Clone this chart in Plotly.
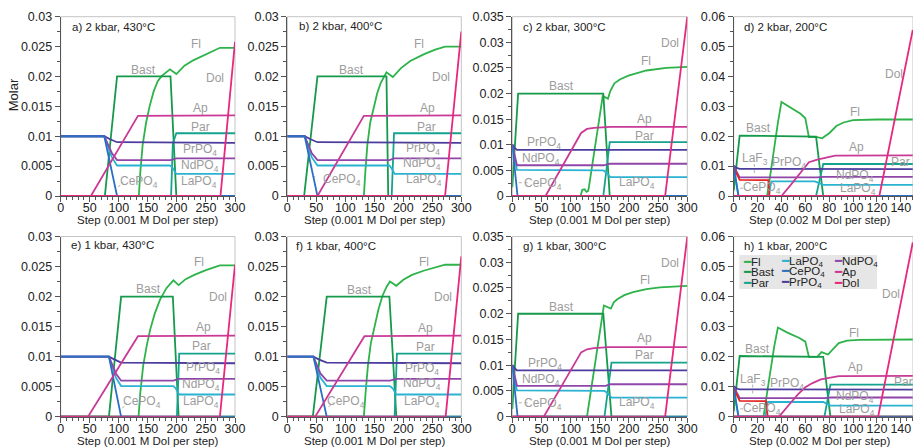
import plotly.graph_objects as go

FONT = "Liberation Sans, Arial, sans-serif"

COLORS = {
    "Fl": "#2db34a", "Bast": "#15994a", "Par": "#15a38e", "LaPO4": "#2ab2d2",
    "CePO4": "#2b6fc3", "PrPO4": "#4b3c9e", "NdPO4": "#8e47a9", "Ap": "#c93a97",
    "Dol": "#e8287e", "LaF3": "#e52421",
}
DRAW_ORDER = ["Fl", "Bast", "Par", "LaPO4", "PrPO4", "NdPO4", "LaF3", "CePO4", "Ap", "Dol"]
LABEL_TEXT = {
    "Fl": "Fl", "Bast": "Bast", "Par": "Par", "Ap": "Ap", "Dol": "Dol",
    "PrPO4": "PrPO<sub>4</sub>", "NdPO4": "NdPO<sub>4</sub>", "LaPO4": "LaPO<sub>4</sub>",
    "CePO4": "CePO<sub>4</sub>", "LaF3": "LaF<sub>3</sub>",
}

# ---------------- data: [step, molar] ----------------
# a) 2 kbar, 430 C
a_Fl = [[0, 0], [134.5, 0], [137, 0.004], [141, 0.0085], [147, 0.0123], [153, 0.015], [160, 0.0175],
        [167, 0.0192], [174, 0.0201], [181, 0.0207], [188, 0.0212], [199, 0.0204], [213, 0.0218],
        [228, 0.0227], [251, 0.0238], [274, 0.0248], [300, 0.0248]]
a_Bast = [[0, 0], [76, 0], [97, 0.02], [189, 0.02], [199, 0], [300, 0]]
a_Par = [[0, 0], [190, 0], [193, 0.0088], [199, 0.0105], [300, 0.0105]]
a_LaPO4 = [[0, 0.01], [75, 0.01], [88, 0.0065], [97, 0.0051], [188, 0.0051], [192, 0.0048], [199, 0.0037], [300, 0.0037]]
a_CePO4 = [[0, 0.01], [75, 0.01], [97, 0], [300, 0]]
a_PrPO4 = [[0, 0.01], [75, 0.01], [85, 0.0095], [97, 0.009], [300, 0.0089]]
a_NdPO4 = [[0, 0.01], [75, 0.01], [88, 0.0072], [97, 0.006], [189, 0.006], [199, 0.0063], [300, 0.0063]]
a_Ap = [[0, 0], [52, 0], [133, 0.0134], [190, 0.0134], [200, 0.0135], [300, 0.0135]]
a_Dol = [[0, 0], [275, 0], [300, 0.0258]]

# b) 2 kbar, 400 C
b_Fl = [[0, 0], [132, 0], [134.5, 0.004], [138, 0.0085], [143, 0.0123], [149, 0.015], [155, 0.0172],
        [161, 0.0189], [166, 0.0199], [171, 0.0207], [182, 0.0199], [196, 0.0214], [212, 0.0226],
        [235, 0.0237], [255, 0.0245], [272, 0.025], [300, 0.025]]
b_Bast = [[0, 0], [29, 0], [52, 0.02], [171, 0.02], [174, 0], [300, 0]]
b_Par = [[0, 0], [180, 0], [184, 0.0105], [300, 0.0105]]
b_LaPO4 = [[0, 0.01], [30, 0.01], [42, 0.0065], [52, 0.0051], [176, 0.0051], [180, 0.0046], [185, 0.0037], [300, 0.0037]]
b_CePO4 = [[0, 0.01], [30, 0.01], [52, 0], [300, 0]]
b_PrPO4 = [[0, 0.01], [30, 0.01], [40, 0.0095], [52, 0.009], [300, 0.0089]]
b_NdPO4 = [[0, 0.01], [30, 0.01], [42, 0.0072], [52, 0.006], [176, 0.006], [184, 0.0063], [300, 0.0063]]
b_Ap = [[0, 0], [52, 0], [132, 0.0134], [180, 0.0134], [185, 0.0135], [300, 0.0135]]
b_Dol = [[0, 0], [272, 0], [300, 0.0275]]

# c) 2 kbar, 300 C
c_Fl = [[0, 0], [117, 0], [120, 0.0012], [124, 0.0013], [127, 0.0008], [130, 0.001], [131, 0.0015],
        [155, 0.0195], [164, 0.019], [168, 0.0205], [175, 0.022], [185, 0.0228], [199, 0.0235],
        [230, 0.0245], [264, 0.025], [300, 0.0252]]
c_Bast = [[0, 0.0017], [10, 0.02], [156, 0.02], [167, 0], [300, 0]]
c_Par = [[0, 0], [156, 0], [167, 0.0105], [300, 0.0105]]
c_LaPO4 = [[0, 0.0098], [4, 0.007], [8, 0.0051], [156, 0.005], [160, 0.0047], [168, 0.0037], [300, 0.0037]]
c_CePO4 = [[0, 0.01], [9, 0], [300, 0]]
c_PrPO4 = [[0, 0.0101], [4, 0.0094], [8, 0.009], [300, 0.009]]
c_NdPO4 = [[0, 0.01], [4, 0.008], [8, 0.006], [157, 0.006], [167, 0.0063], [300, 0.0063]]
c_Ap = [[0, 0], [57, 0], [118, 0.0123], [128, 0.0131], [140, 0.0133], [168, 0.0135], [300, 0.0135]]
c_Dol = [[0, 0], [262, 0], [300, 0.035]]

# d) 2 kbar, 200 C
d_Fl = [[0, 0], [28, 0], [31, 0.008], [34, 0.0165], [37, 0.0245], [40, 0.0315], [50, 0.029], [56, 0.0275],
        [60, 0.026], [63, 0.0197], [70, 0.0197], [74, 0.0193], [80, 0.021], [86, 0.0234], [92, 0.0246],
        [100, 0.0254], [120, 0.0256], [150, 0.0256]]
d_Bast = [[0, 0.0018], [5, 0.0202], [69, 0.0199], [75, 0], [150, 0]]
d_Par = [[0, 0], [69, 0], [75, 0.0107], [150, 0.0107]]
d_LaPO4 = [[0, 0.0098], [4, 0], [29.5, 0], [31.5, 0.0049], [68, 0.0049], [70, 0.0045], [75, 0.0037], [150, 0.0037]]
d_LaF3 = [[0, 0.0095], [3, 0.007], [5, 0.0054], [29, 0.0053], [30, 0], [150, 0]]
d_CePO4 = [[0, 0.0098], [4, 0], [150, 0]]
d_PrPO4 = [[0, 0.0101], [3, 0.0093], [5, 0.0091], [150, 0.009]]
d_NdPO4 = [[0, 0.01], [3, 0.0075], [5, 0.0062], [70, 0.0062], [75, 0.0064], [150, 0.0064]]
d_Ap = [[0, 0], [40, 0], [48, 0.0038], [56, 0.0078], [63, 0.0113], [70, 0.0122], [76, 0.0128], [85, 0.0135], [150, 0.0136]]
d_Dol = [[0, 0], [122, 0], [150, 0.0556]]

# e) 1 kbar, 430 C
e_Fl = [[0, 0], [134, 0], [137, 0.004], [142, 0.0085], [148, 0.0118], [154, 0.0145], [162, 0.0172],
        [171, 0.0195], [182, 0.0214], [194, 0.0227], [203, 0.0219], [215, 0.0229], [230, 0.0236],
        [250, 0.0244], [274, 0.0252], [300, 0.0252]]
e_Bast = [[0, 0], [83, 0], [104, 0.02], [193, 0.02], [203, 0], [300, 0]]
e_Par = [[0, 0], [200, 0], [204, 0.0105], [300, 0.0105]]
e_LaPO4 = [[0, 0.01], [83, 0.01], [95, 0.0065], [104, 0.0051], [194, 0.0051], [198, 0.0047], [204, 0.0037], [300, 0.0037]]
e_CePO4 = [[0, 0.01], [83, 0.01], [104, 0], [300, 0]]
e_PrPO4 = [[0, 0.01], [83, 0.01], [93, 0.0095], [104, 0.009], [300, 0.0089]]
e_NdPO4 = [[0, 0.01], [83, 0.01], [95, 0.0072], [104, 0.006], [194, 0.006], [203, 0.0063], [300, 0.0063]]
e_Ap = [[0, 0], [47, 0], [133, 0.0134], [195, 0.0134], [203, 0.0135], [300, 0.0135]]
e_Dol = [[0, 0], [274, 0], [300, 0.0253]]

# f) 1 kbar, 400 C
f_Fl = [[0, 0], [132, 0], [135, 0.004], [139, 0.0085], [144, 0.0122], [150, 0.015], [157, 0.0178],
        [164, 0.0201], [171, 0.0216], [177, 0.0225], [188, 0.0218], [200, 0.0228], [215, 0.0236],
        [235, 0.0243], [255, 0.0249], [272, 0.0253], [300, 0.0253]]
f_Bast = [[0, 0], [44, 0], [68, 0.02], [176, 0.02], [188, 0], [300, 0]]
f_Par = [[0, 0], [185, 0], [189, 0.0105], [300, 0.0105]]
f_LaPO4 = [[0, 0.01], [45, 0.01], [57, 0.0065], [68, 0.0051], [177, 0.0051], [182, 0.0047], [188, 0.0037], [300, 0.0037]]
f_CePO4 = [[0, 0.01], [45, 0.01], [68, 0], [300, 0]]
f_PrPO4 = [[0, 0.01], [45, 0.01], [55, 0.0095], [68, 0.009], [300, 0.0089]]
f_NdPO4 = [[0, 0.01], [45, 0.01], [57, 0.0072], [68, 0.006], [177, 0.006], [188, 0.0063], [300, 0.0063]]
f_Ap = [[0, 0], [48, 0], [133, 0.0134], [188, 0.0134], [190, 0.0135], [300, 0.0135]]
f_Dol = [[0, 0], [273, 0], [300, 0.0267]]

# g) 1 kbar, 300 C
g_Fl = [[0, 0], [128, 0], [157, 0.0216], [163, 0.0213], [169, 0.021], [174, 0.0222], [180, 0.0228],
        [192, 0.0236], [207, 0.0242], [230, 0.0248], [253, 0.0251], [300, 0.0254]]
g_Bast = [[0, 0.0015], [10, 0.02], [156, 0.02], [170, 0], [300, 0]]
g_Par = [[0, 0], [158, 0], [170, 0.0105], [300, 0.0105]]
g_LaPO4 = [[0, 0.0098], [4, 0.007], [8, 0.0051], [158, 0.005], [162, 0.0047], [170, 0.0037], [300, 0.0037]]
g_CePO4 = [[0, 0.01], [9, 0], [300, 0]]
g_PrPO4 = [[0, 0.0101], [4, 0.0094], [8, 0.009], [300, 0.009]]
g_NdPO4 = [[0, 0.01], [4, 0.008], [8, 0.006], [160, 0.006], [168, 0.0063], [300, 0.0063]]
g_Ap = [[0, 0], [54, 0], [118, 0.0125], [128, 0.0131], [140, 0.0133], [165, 0.0135], [300, 0.0135]]
g_Dol = [[0, 0], [262, 0], [300, 0.035]]

# h) 1 kbar, 200 C
h_Fl = [[0, 0], [25, 0], [28, 0.008], [31, 0.0165], [34, 0.0235], [37, 0.0297], [45, 0.028], [55, 0.0262],
        [60, 0.025], [63, 0.0199], [70, 0.0199], [73.5, 0.0215], [79, 0.0207], [84, 0.0228], [88, 0.0245],
        [95, 0.0253], [105, 0.0256], [150, 0.0257]]
h_Bast = [[0, 0.0018], [5, 0.0202], [75, 0.0199], [81, 0], [150, 0]]
h_Par = [[0, 0], [76, 0], [81, 0.0107], [150, 0.0107]]
h_LaPO4 = [[0, 0.0098], [4, 0], [26.5, 0], [28.5, 0.0049], [75, 0.0049], [77, 0.0045], [81, 0.0037], [150, 0.0037]]
h_LaF3 = [[0, 0.0095], [3, 0.007], [5, 0.0053], [27, 0.0052], [28.5, 0], [150, 0]]
h_CePO4 = [[0, 0.0098], [4, 0], [150, 0]]
h_PrPO4 = [[0, 0.0101], [3, 0.0093], [5, 0.0091], [150, 0.009]]
h_NdPO4 = [[0, 0.01], [3, 0.0075], [5, 0.0062], [76, 0.0062], [81, 0.0064], [150, 0.0064]]
h_Ap = [[0, 0], [38, 0], [46, 0.0038], [54, 0.0075], [60, 0.0098], [66, 0.0112], [73, 0.0124], [80, 0.013], [88, 0.0135], [150, 0.0136]]
h_Dol = [[0, 0], [121, 0], [150, 0.058]]

# ---------------- label placement (layout) ----------------
a_labels = {"Fl": (233, 0.0254), "Bast": (143, 0.0211), "Dol": (266, 0.0198), "Ap": (240, 0.01475),
            "Par": (240, 0.0116), "PrPO4": (240, 0.0077), "NdPO4": (239, 0.0051), "LaPO4": (238, 0.0023),
            "CePO4": (134, 0.0023)}
b_labels = {"Fl": (227, 0.0254), "Bast": (111, 0.0211), "Dol": (265, 0.0199), "Ap": (241, 0.0148),
            "Par": (240, 0.0116), "PrPO4": (234, 0.0079), "NdPO4": (233, 0.0054), "LaPO4": (235, 0.0026),
            "CePO4": (94, 0.0026)}
c_labels = {"Dol": (271, 0.0299), "Fl": (229, 0.0264), "Bast": (85, 0.0214), "Ap": (227, 0.0151),
            "Par": (226, 0.0118), "PrPO4": (54, 0.0104), "NdPO4": (50, 0.0072), "CePO4": (53, 0.0023),
            "LaPO4": (214, 0.0026)}
d_labels = {"Dol": (134, 0.0408), "Fl": (102, 0.028), "Bast": (21, 0.0226), "Ap": (103, 0.0165),
            "Par": (140, 0.0115), "NdPO4": (102, 0.0067), "LaPO4": (104, 0.0022), "LaF3": (18, 0.0123),
            "PrPO4": (46, 0.0109), "CePO4": (23.5, 0.0026)}
e_labels = {"Fl": (238, 0.0257), "Bast": (151, 0.0213), "Dol": (271, 0.02), "Ap": (245, 0.01496),
            "Par": (243, 0.0118), "PrPO4": (245, 0.0081), "NdPO4": (242, 0.0052), "LaPO4": (242, 0.00246),
            "CePO4": (140, 0.00246)}
f_labels = {"Fl": (236, 0.0257), "Bast": (124, 0.0211), "Dol": (268, 0.0199), "Ap": (239, 0.0148),
            "Par": (239, 0.0116), "PrPO4": (233, 0.0079), "NdPO4": (232, 0.0054), "LaPO4": (233, 0.0025),
            "CePO4": (101, 0.0024)}
g_labels = {"Dol": (270, 0.0299), "Fl": (227, 0.0265), "Bast": (85, 0.0213), "Ap": (226, 0.0152),
            "Par": (226, 0.0119), "PrPO4": (56, 0.0103), "NdPO4": (50, 0.0072), "CePO4": (53, 0.0025),
            "LaPO4": (214, 0.0027)}
h_labels = {"Dol": (132, 0.0408), "Fl": (101, 0.028), "Bast": (20, 0.0227), "Ap": (102, 0.0165),
            "Par": (142, 0.0117), "NdPO4": (102, 0.0067), "LaPO4": (103, 0.0022), "LaF3": (16.5, 0.0123),
            "PrPO4": (44.5, 0.0109), "CePO4": (23.5, 0.0026)}

a_leaders = [((99, 0.0015), (108, 0.0024))]
b_leaders = [((45, 0.0035), (52, 0.0026))]
c_leaders = [((11, 0.0026), (27, 0.0026))]
d_leaders = [((17.3, 0.0107), (17.3, 0.007)), ((5.3, 0.0026), (9.4, 0.0026))]
e_leaders = [((106, 0.0014), (114, 0.0023))]
f_leaders = [((71, 0.0016), (79, 0.0024))]
g_leaders = [((11, 0.0027), (27, 0.0027))]
h_leaders = [((15.9, 0.0107), (15.9, 0.007)), ((5.4, 0.0026), (9.6, 0.0026))]

STEP1 = "Step (0.001 M Dol per step)"
STEP2 = "Step (0.002 M Dol per step)"

panels = [
    dict(title="a) 2 kbar, 430°C", tx=16, ty=0.0283, xmax=300, ymax=0.03, ydt=0.005, xdt=50,
         series=dict(Fl=a_Fl, Bast=a_Bast, Par=a_Par, LaPO4=a_LaPO4, CePO4=a_CePO4, PrPO4=a_PrPO4,
                     NdPO4=a_NdPO4, Ap=a_Ap, Dol=a_Dol), labels=a_labels, leaders=a_leaders, xt=STEP1),
    dict(title="b) 2 kbar, 400°C", tx=16.7, ty=0.0284, xmax=300, ymax=0.03, ydt=0.005, xdt=50,
         series=dict(Fl=b_Fl, Bast=b_Bast, Par=b_Par, LaPO4=b_LaPO4, CePO4=b_CePO4, PrPO4=b_PrPO4,
                     NdPO4=b_NdPO4, Ap=b_Ap, Dol=b_Dol), labels=b_labels, leaders=b_leaders, xt=STEP1),
    dict(title="c) 2 kbar, 300°C", tx=15, ty=0.0329, xmax=300, ymax=0.035, ydt=0.005, xdt=50,
         series=dict(Fl=c_Fl, Bast=c_Bast, Par=c_Par, LaPO4=c_LaPO4, CePO4=c_CePO4, PrPO4=c_PrPO4,
                     NdPO4=c_NdPO4, Ap=c_Ap, Dol=c_Dol), labels=c_labels, leaders=c_leaders, xt=STEP1),
    dict(title="d) 2 kbar, 200°C", tx=6.7, ty=0.0566, xmax=150.2, ymax=0.06, ydt=0.01, xdt=20,
         series=dict(Fl=d_Fl, Bast=d_Bast, Par=d_Par, LaPO4=d_LaPO4, LaF3=d_LaF3, CePO4=d_CePO4,
                     PrPO4=d_PrPO4, NdPO4=d_NdPO4, Ap=d_Ap, Dol=d_Dol), labels=d_labels, leaders=d_leaders, xt=STEP2),
    dict(title="e) 1 kbar, 430°C", tx=14.3, ty=0.0286, xmax=300, ymax=0.03, ydt=0.005, xdt=50,
         series=dict(Fl=e_Fl, Bast=e_Bast, Par=e_Par, LaPO4=e_LaPO4, CePO4=e_CePO4, PrPO4=e_PrPO4,
                     NdPO4=e_NdPO4, Ap=e_Ap, Dol=e_Dol), labels=e_labels, leaders=e_leaders, xt=STEP1),
    dict(title="f) 1 kbar, 400°C", tx=11.5, ty=0.0284, xmax=300, ymax=0.03, ydt=0.005, xdt=50,
         series=dict(Fl=f_Fl, Bast=f_Bast, Par=f_Par, LaPO4=f_LaPO4, CePO4=f_CePO4, PrPO4=f_PrPO4,
                     NdPO4=f_NdPO4, Ap=f_Ap, Dol=f_Dol), labels=f_labels, leaders=f_leaders, xt=STEP1),
    dict(title="g) 1 kbar, 300°C", tx=15, ty=0.0331, xmax=300, ymax=0.035, ydt=0.005, xdt=50,
         series=dict(Fl=g_Fl, Bast=g_Bast, Par=g_Par, LaPO4=g_LaPO4, CePO4=g_CePO4, PrPO4=g_PrPO4,
                     NdPO4=g_NdPO4, Ap=g_Ap, Dol=g_Dol), labels=g_labels, leaders=g_leaders, xt=STEP1),
    dict(title="h) 1 kbar, 200°C", tx=6.7, ty=0.0569, xmax=150.2, ymax=0.06, ydt=0.01, xdt=20,
         series=dict(Fl=h_Fl, Bast=h_Bast, Par=h_Par, LaPO4=h_LaPO4, LaF3=h_LaF3, CePO4=h_CePO4,
                     PrPO4=h_PrPO4, NdPO4=h_NdPO4, Ap=h_Ap, Dol=h_Dol), labels=h_labels, leaders=h_leaders, xt=STEP2),
]

W, H = 913, 447
XD = [(60.7, 235.0), (287.3, 461.3), (512.3, 687.3), (733.7, 913.0)]   # pixel columns
YD = [(16.7, 196.0), (236.5, 416.7)]                                      # pixel rows (top, bottom)
XT_CENTER = [147.8, 374.3, 599.8, 819.0]

fig = go.Figure()
layout = {}
shapes = []
annotations = []

for i, p in enumerate(panels):
    n = i + 1
    col, row = i % 4, i // 4
    xs = "x" if n == 1 else f"x{n}"
    ys = "y" if n == 1 else f"y{n}"
    xa = "xaxis" if n == 1 else f"xaxis{n}"
    ya = "yaxis" if n == 1 else f"yaxis{n}"
    x0, x1 = XD[col]
    yt, yb = YD[row]
    axis_common = dict(showline=True, linecolor="#555", linewidth=1, ticks="outside", ticklen=5,
                       tickwidth=1, tickcolor="#555", showgrid=False, zeroline=False, automargin=False,
                       tickangle=0, tickfont=dict(family=FONT, size=12.5, color="#222"), tick0=0)
    layout[xa] = dict(axis_common, domain=[x0 / W, x1 / W], range=[0, p["xmax"]], anchor=ys,
                      dtick=p["xdt"], ticklabelstandoff=-5,
                      minor=dict(dtick=p["xdt"] / 5 if p["xdt"] == 50 else p["xdt"] / 4,
                                 ticks="outside", ticklen=3, tickcolor="#555"))
    layout[ya] = dict(axis_common, domain=[1 - yb / H, 1 - yt / H], range=[0, p["ymax"]], anchor=xs,
                      dtick=p["ydt"], minor=dict(dtick=p["ydt"] / 2, ticks="outside", ticklen=3,
                                                 tickcolor="#555"))
    # light frame
    shapes.append(dict(type="rect", xref=f"{xs} domain", yref=f"{ys} domain", x0=0, x1=1, y0=0, y1=1,
                       line=dict(color="#c4c4c4", width=1), layer="below"))
    for name in DRAW_ORDER:
        if name not in p["series"]:
            continue
        pts = p["series"][name]
        fig.add_trace(go.Scatter(x=[q[0] for q in pts], y=[q[1] for q in pts], mode="lines",
                                 line=dict(color=COLORS[name], width=1.8), name=name,
                                 xaxis=xs, yaxis=ys, showlegend=False, hoverinfo="skip"))
    # panel title
    annotations.append(dict(x=p["tx"], y=p["ty"], xref=xs, yref=ys, text=p["title"], showarrow=False,
                            xanchor="left", yanchor="middle", font=dict(family=FONT, size=11.5, color="#222")))
    for name, (lx, ly) in p["labels"].items():
        annotations.append(dict(x=lx, y=ly, xref=xs, yref=ys, text=LABEL_TEXT[name], showarrow=False,
                                xanchor="center", yanchor="middle",
                                font=dict(family=FONT, size=12, color="#9c9c9c")))
    for (a0, a1) in p["leaders"]:
        shapes.append(dict(type="line", xref=xs, yref=ys, x0=a0[0], y0=a0[1], x1=a1[0], y1=a1[1],
                           line=dict(color="#9c9c9c", width=0.8, dash="dot")))
    # x-axis title
    annotations.append(dict(x=XT_CENTER[col] / W, y=1 - (yb + 24) / H, xref="paper", yref="paper",
                            text=p["xt"], showarrow=False, xanchor="center", yanchor="middle",
                            font=dict(family=FONT, size=11.5, color="#222")))

# y-axis title
annotations.append(dict(x=13.3 / W, y=1 - 95 / H, xref="paper", yref="paper", text="Molar", textangle=-90,
                        showarrow=False, xanchor="center", yanchor="middle",
                        font=dict(family=FONT, size=13, color="#222")))

# legend in panel h (drawn as text entries)
LEG_ROWS = [["Fl", "LaPO4", "NdPO4"], ["Bast", "CePO4", "Ap"], ["Par", "PrPO4", "Dol"]]
LEG_COLX = [741.0, 778.5, 832.0]
LEG_ROWY = [261.5, 272.0, 282.5]
shapes.append(dict(type="rect", xref="paper", yref="paper", x0=739.3 / W, x1=877 / W,
                   y0=1 - 289 / H, y1=1 - 255 / H, fillcolor="#e6e6e6", line=dict(width=0), layer="below"))
for r, names in enumerate(LEG_ROWS):
    for c, name in enumerate(names):
        annotations.append(dict(x=LEG_COLX[c] / W, y=1 - LEG_ROWY[r] / H, xref="paper", yref="paper",
                                text=f"<span style='color:{COLORS[name]}'>━</span>{LABEL_TEXT[name]}",
                                showarrow=False, xanchor="left", yanchor="middle",
                                font=dict(family=FONT, size=11.5, color="#222")))

fig.update_layout(width=W, height=H, margin=dict(l=0, r=0, t=0, b=0), plot_bgcolor="white",
                  paper_bgcolor="white", showlegend=False, shapes=shapes, annotations=annotations,
                  font=dict(family=FONT), **layout)
fig.write_html("out.html", config={"displayModeBar": False},
               post_script="document.body.style.margin='0';document.body.style.overflow='hidden';")
